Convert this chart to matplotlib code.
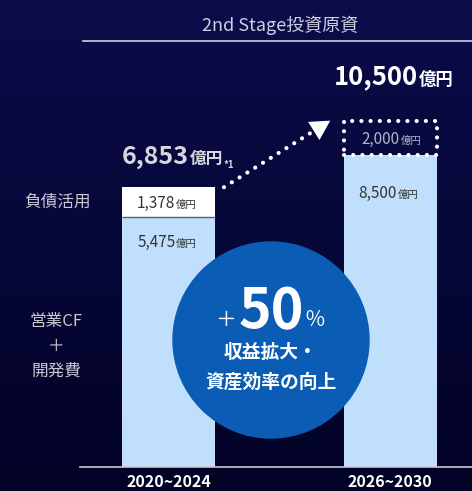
import numpy as np
import matplotlib
matplotlib.use('Agg')
import matplotlib.pyplot as plt
from matplotlib.patches import Circle
from matplotlib.lines import Line2D
from matplotlib.colors import LinearSegmentedColormap

plt.rcParams['font.family'] = ['Noto Sans CJK JP', 'DejaVu Sans']

# data
periods = ['2020~2024', '2026~2030']
base_vals = [5475, 8500]      # 営業CF + 開発費
top_vals = [1378, 2000]       # 負債活用 / 上積み
totals = [6853, 10500]
base_labels = ['5,475', '8,500']
top_labels = ['1,378', '2,000']
total_labels = ['6,853', '10,500']
row_labels = ['負債活用', '営業CF\n＋\n開発費']

W, H = 472, 491
fig = plt.figure(figsize=(W / 100, H / 100), dpi=100)

# background gradient
bg = fig.add_axes([0, 0, 1, 1])
cmap = LinearSegmentedColormap.from_list('bg', ['#0b0c4a', '#020226'])
bg.imshow(np.linspace(0, 1, 256).reshape(-1, 1), aspect='auto', cmap=cmap,
          extent=[0, 1, 0, 1])
bg.axis('off')

# main axes (sqrt scale so the bars look like the infographic)
K = 3.38
ax = fig.add_axes([80 / W, 24 / H, 392 / W, 407 / H])
ax.patch.set_alpha(0)
ax.set_yscale('function', functions=(lambda v: np.sqrt(np.clip(v, 0, None)),
                                     lambda v: np.square(v)))

x = np.arange(len(periods))
bw = 0.42
ax.bar(x, base_vals, width=bw, color='#c0dffc', zorder=2)
ax.bar(x[0], top_vals[0], bottom=base_vals[0], width=bw, color='white', zorder=2)
ax.hlines(base_vals[0], x[0] - bw / 2, x[0] + bw / 2, color='#52607f', lw=1, zorder=3)
ax.bar(x[1], top_vals[1], bottom=base_vals[1], width=bw, fill=False,
       edgecolor='white', lw=3, ls=(0, (0.01, 2.2)), capstyle='round', zorder=3)

ax.set_xlim(-0.4, 1.37)
ax.set_ylim(0, (407 / K) ** 2)

for s in ['top', 'left', 'right']:
    ax.spines[s].set_visible(False)
ax.spines['bottom'].set_color('#c8c8d0')
ax.spines['bottom'].set_linewidth(1.2)
ax.tick_params(axis='y', left=False, labelleft=False)
ax.set_xticks(x, periods)
ax.tick_params(axis='x', length=0, pad=5, labelsize=11.5, labelcolor='white')
for t in ax.get_xticklabels():
    t.set_fontweight('bold')


def smid(lo, hi):
    return ((np.sqrt(lo) + np.sqrt(hi)) / 2) ** 2


def val_label(xv, yv, num, unit, size, usize, color, dx=0, dy=0, ha='right',
              weight='normal'):
    t = ax.annotate(num, (xv, yv), xytext=(dx, dy), textcoords='offset points',
                    ha=ha, va='baseline', fontsize=size, color=color,
                    fontweight=weight, zorder=4)
    u = ax.annotate(unit, (1, yv), xycoords=(t, 'data'), xytext=(0.5, dy),
                    textcoords='offset points', ha='left', va='baseline',
                    fontsize=usize, color=color, fontweight=weight, zorder=4)
    return u


# segment labels
val_label(x[0], smid(base_vals[0], totals[0]), top_labels[0], '億円', 11, 7.5,
          '#333333', dx=4.7, dy=-4)
val_label(x[0], base_vals[0], base_labels[0], '億円', 11, 7.5, '#333333',
          dx=5, dy=-22)
val_label(x[1], base_vals[1], base_labels[1], '億円', 11, 7.5, '#333333',
          dx=5, dy=-31)
val_label(x[1], smid(base_vals[1], totals[1]), top_labels[1], '億円', 11, 7.5,
          '#b4b4c4', dx=7, dy=-4)

# totals
u = val_label(x[0] - bw / 2, totals[0], total_labels[0], '億円', 18, 12,
              '#d6d6de', dx=0, dy=17, ha='left', weight='bold')
ax.annotate('*1', (1, totals[0]), xycoords=(u, 'data'), xytext=(0.5, 14),
            textcoords='offset points', ha='left', va='baseline', fontsize=7,
            color='#d6d6de', fontweight='bold')
val_label(x[1], totals[1], total_labels[1], '億円', 18.5, 12.5, 'white',
          dx=20, dy=26, weight='bold')

# dotted arrow between totals: dotted line + solid head
p_start = (x[0] + bw / 2 + 0.04, totals[0])
p_end = (x[1] - bw / 2 - 0.06, totals[1])
d0 = ax.transData.transform(p_start)
d1 = ax.transData.transform(p_end)
u_dir = (d1 - d0) / np.hypot(*(d1 - d0))
back = u_dir * 12 * 72 / 100     # 12 px back, in points
ax.plot([p_start[0], p_end[0]], [p_start[1], p_end[1]], color='white', lw=3,
        ls=(0, (0.01, 2.2)), dash_capstyle='round', zorder=4, clip_on=False)
ax.annotate('', xy=p_end, xytext=(-back[0], -back[1]),
            textcoords='offset points',
            arrowprops=dict(arrowstyle='-|>,head_length=1.0,head_width=0.55',
                            color='white', lw=0, mutation_scale=14,
                            shrinkA=0, shrinkB=0), zorder=4)

# row labels on the left
lt = ax.get_yaxis_transform()
ax.text((57 - 80) / 392, smid(base_vals[0], totals[0]), row_labels[0],
        transform=lt, ha='center', va='center', fontsize=12, color='#c8c8d2')
ax.annotate(row_labels[1], (-(80 - 56) / 392, smid(0, base_vals[0])),
            xycoords=lt, xytext=(0, -3), textcoords='offset points',
            ha='center', va='center', fontsize=12, color='#c8c8d2',
            linespacing=1.6)

# title and rule
fig.text(280 / W, 1 - 25 / H, '2nd Stage投資原資', ha='center', va='center',
         fontsize=13, color='#cfd0e0')
fig.add_artist(Line2D([83 / W, 1], [1 - 41 / H] * 2, color='#d0d0dc', lw=1.2))

# circle callout
tr = fig.dpi_scale_trans
fig.add_artist(Circle((2.71, (H - 340) / 100), 0.98, transform=tr,
                      color='#0b5cb4', zorder=5))
fig.text(2.715, (H - 328) / 100, '50', transform=tr, ha='center', va='baseline',
         fontsize=40, fontweight='bold', color='white', zorder=6)
fig.text(2.36, (H - 326) / 100, '＋', transform=tr, ha='right', va='baseline',
         fontsize=15, color='white', zorder=6)
fig.text(3.04, (H - 326) / 100, '％', transform=tr, ha='left', va='baseline',
         fontsize=15, color='white', zorder=6)
fig.text(2.70, (H - 352) / 100, '収益拡大・', transform=tr, ha='center',
         va='center', fontsize=13.5, fontweight='bold', color='white', zorder=6)
fig.text(2.707, (H - 382) / 100, '資産効率の向上', transform=tr, ha='center',
         va='center', fontsize=13.5, fontweight='bold', color='white', zorder=6)

fig.savefig('out.png', dpi=100)
